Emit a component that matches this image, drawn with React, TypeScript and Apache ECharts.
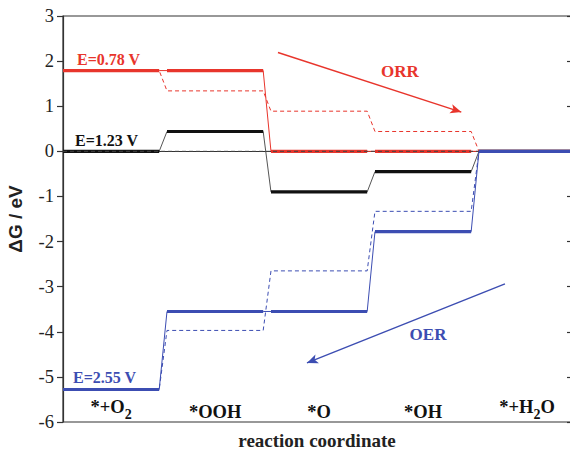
import React, { useEffect, useRef } from "react";
import * as echarts from "echarts";

// States along the reaction coordinate
const categories = ["*+O2", "*OOH", "*O", "*OH", "*+H2O"];
// Free-energy levels (eV)
const redSolid = [1.79, 1.79, 0.0, 0.0, 0.0]; // E = 0.78 V
const redDashed = [1.79, 1.34, 0.89, 0.44, 0.0];
const blackSolid = [0.0, 0.44, -0.9, -0.45, 0.0]; // E = 1.23 V
const blackDashed = [0.0, 0.0, 0.0, 0.0, 0.0];
const blueSolid = [-5.28, -3.55, -3.55, -1.78, 0.0]; // E = 2.55 V
const blueDashed = [-5.28, -3.97, -2.65, -1.33, 0.0];
const yTicks = [-6, -5, -4, -3, -2, -1, 0, 1, 2, 3];

const RED = "#e8352c";
const BLACK = "#111111";
const BLUE = "#3c4db2";
const SERIF = "'Liberation Serif', 'Times New Roman', serif";

const XMAX = 4.885; // plot extends a bit beyond the last state
const W = 0.925; // width of a level relative to its step

function segEnd(i: number, n: number) {
  return i === n - 1 ? XMAX : i + W;
}
function stepPath(vals: number[]) {
  const pts: any[] = [];
  vals.forEach((v, i) => {
    pts.push([i, v], [segEnd(i, vals.length), v]);
  });
  return pts;
}
function levelsOnly(vals: number[]) {
  const pts: any[] = [];
  vals.forEach((v, i) => {
    const e = segEnd(i, vals.length);
    pts.push([i, v], [e, v]);
    if (i < vals.length - 1) pts.push([e + 0.02, "-"]);
  });
  return pts;
}

function lineSeries(data: any[], color: string, width: number, dashed: boolean, z: number, extra: any = {}) {
  return {
    type: "line",
    data,
    showSymbol: false,
    symbol: "none",
    silent: true,
    connectNulls: false,
    z,
    lineStyle: { color, width, type: dashed ? [4, 3] : "solid" },
    ...extra,
  };
}

function fmtLabel(s: string) {
  return s.replace(/(\d)/g, "{s|$1}");
}

export default function App() {
  const ref = useRef<HTMLDivElement>(null);
  useEffect(() => {
    if (!ref.current) return;
    const chart = echarts.init(ref.current, undefined, { renderer: "svg" });
    const labelPos = categories.map((_, i) => i + W / 2);
    const arrowStyle = (color: string) => ({
      symbol: ["none", "arrow"],
      symbolSize: [7, 11],
      silent: true,
      label: { show: false },
      lineStyle: { color, width: 1.4, type: "solid" },
    });
    const option: any = {
      animation: false,
      grid: {
        left: 63,
        top: 16,
        right: 3,
        bottom: 29,
        show: true,
        borderColor: "#333",
        borderWidth: 1.2,
        containLabel: false,
        outerBoundsMode: "none",
      },
      xAxis: {
        type: "value",
        min: 0,
        max: XMAX,
        name: "reaction coordinate",
        nameLocation: "middle",
        nameGap: 9,
        nameTextStyle: { fontFamily: SERIF, fontWeight: "bold", fontSize: 19, color: "#222" },
        axisLine: { show: true, lineStyle: { color: "#333", width: 1.2 } },
        axisTick: { show: false },
        splitLine: { show: false },
        axisLabel: {
          inside: true,
          margin: 1,
          customValues: labelPos,
          formatter: (v: number) => fmtLabel(categories[Math.round(v - W / 2)] ?? ""),
          fontFamily: SERIF,
          fontWeight: "bold",
          fontSize: 18.5,
          color: "#111",
          rich: {
            s: { fontFamily: SERIF, fontWeight: "bold", fontSize: 14, color: "#111", padding: [14, 0, 0, 0] },
          },
        },
      },
      yAxis: [
        {
          type: "value",
          min: -6,
          max: 3,
          interval: 1,
          name: "ΔG / eV",
          nameLocation: "middle",
          nameGap: 38,
          nameTextStyle: { fontFamily: "'Liberation Sans', Arial, sans-serif", fontWeight: "bold", fontSize: 19, color: "#222" },
          axisLine: { show: true, lineStyle: { color: "#333", width: 1.2 } },
          axisTick: { show: true, length: 6, lineStyle: { color: "#333", width: 1.2 } },
          axisLabel: {
            margin: 9,
            fontFamily: SERIF,
            fontSize: 18.5,
            color: "#222",
            formatter: (v: number) => (yTicks.includes(v) ? String(v) : ""),
          },
          splitLine: { show: false },
        },
        {
          type: "value",
          position: "right",
          min: -6,
          max: 3,
          interval: 1,
          axisLine: { show: true, lineStyle: { color: "#333", width: 1.2 } },
          axisTick: { show: true, inside: true, length: 4, lineStyle: { color: "#333", width: 1.2 } },
          axisLabel: { show: false },
          splitLine: { show: false },
        },
      ],
      series: [
        lineSeries(stepPath(redDashed), RED, 1, true, 2, {
          markLine: {
            ...arrowStyle(RED),
            data: [[{ coord: [2.067, 2.19] }, { coord: [3.83, 0.87] }]],
          },
        }),
        lineSeries(stepPath(blueDashed), BLUE, 1, true, 2, {
          markLine: {
            ...arrowStyle(BLUE),
            data: [[{ coord: [4.25, -2.94] }, { coord: [2.346, -4.69] }]],
          },
        }),
        lineSeries(stepPath(redSolid), RED, 1, false, 3),
        lineSeries(levelsOnly(redSolid), RED, 3.2, false, 3),
        lineSeries(stepPath(blackSolid), "#555", 1, false, 4),
        lineSeries(levelsOnly(blackSolid), BLACK, 3.2, false, 4),
        lineSeries(stepPath(blackDashed), "#444", 1, true, 5),
        lineSeries(stepPath(blueSolid), BLUE, 1, false, 6),
        lineSeries(levelsOnly(blueSolid), BLUE, 3.2, false, 6),
      ],
      graphic: [
        { type: "text", x: 77, y: 59, style: { text: "E=0.78 V", fill: RED, font: `bold 16px ${SERIF}`, textAlign: "left", textVerticalAlign: "middle" } },
        { type: "text", x: 75, y: 140, style: { text: "E=1.23 V", fill: BLACK, font: `bold 16px ${SERIF}`, textAlign: "left", textVerticalAlign: "middle" } },
        { type: "text", x: 73, y: 377, style: { text: "E=2.55 V", fill: BLUE, font: `bold 16px ${SERIF}`, textAlign: "left", textVerticalAlign: "middle" } },
        { type: "text", x: 400, y: 71, style: { text: "ORR", fill: RED, font: `bold 17px ${SERIF}`, textAlign: "center", textVerticalAlign: "middle" } },
        { type: "text", x: 428, y: 334, style: { text: "OER", fill: BLUE, font: `bold 17px ${SERIF}`, textAlign: "center", textVerticalAlign: "middle" } },
      ],
    };
    chart.setOption(option);
    return () => chart.dispose();
  }, []);
  return (
    <div
      ref={ref}
      style={{ position: "fixed", left: 0, top: 0, width: 574, height: 451, background: "#fff" }}
    />
  );
}
